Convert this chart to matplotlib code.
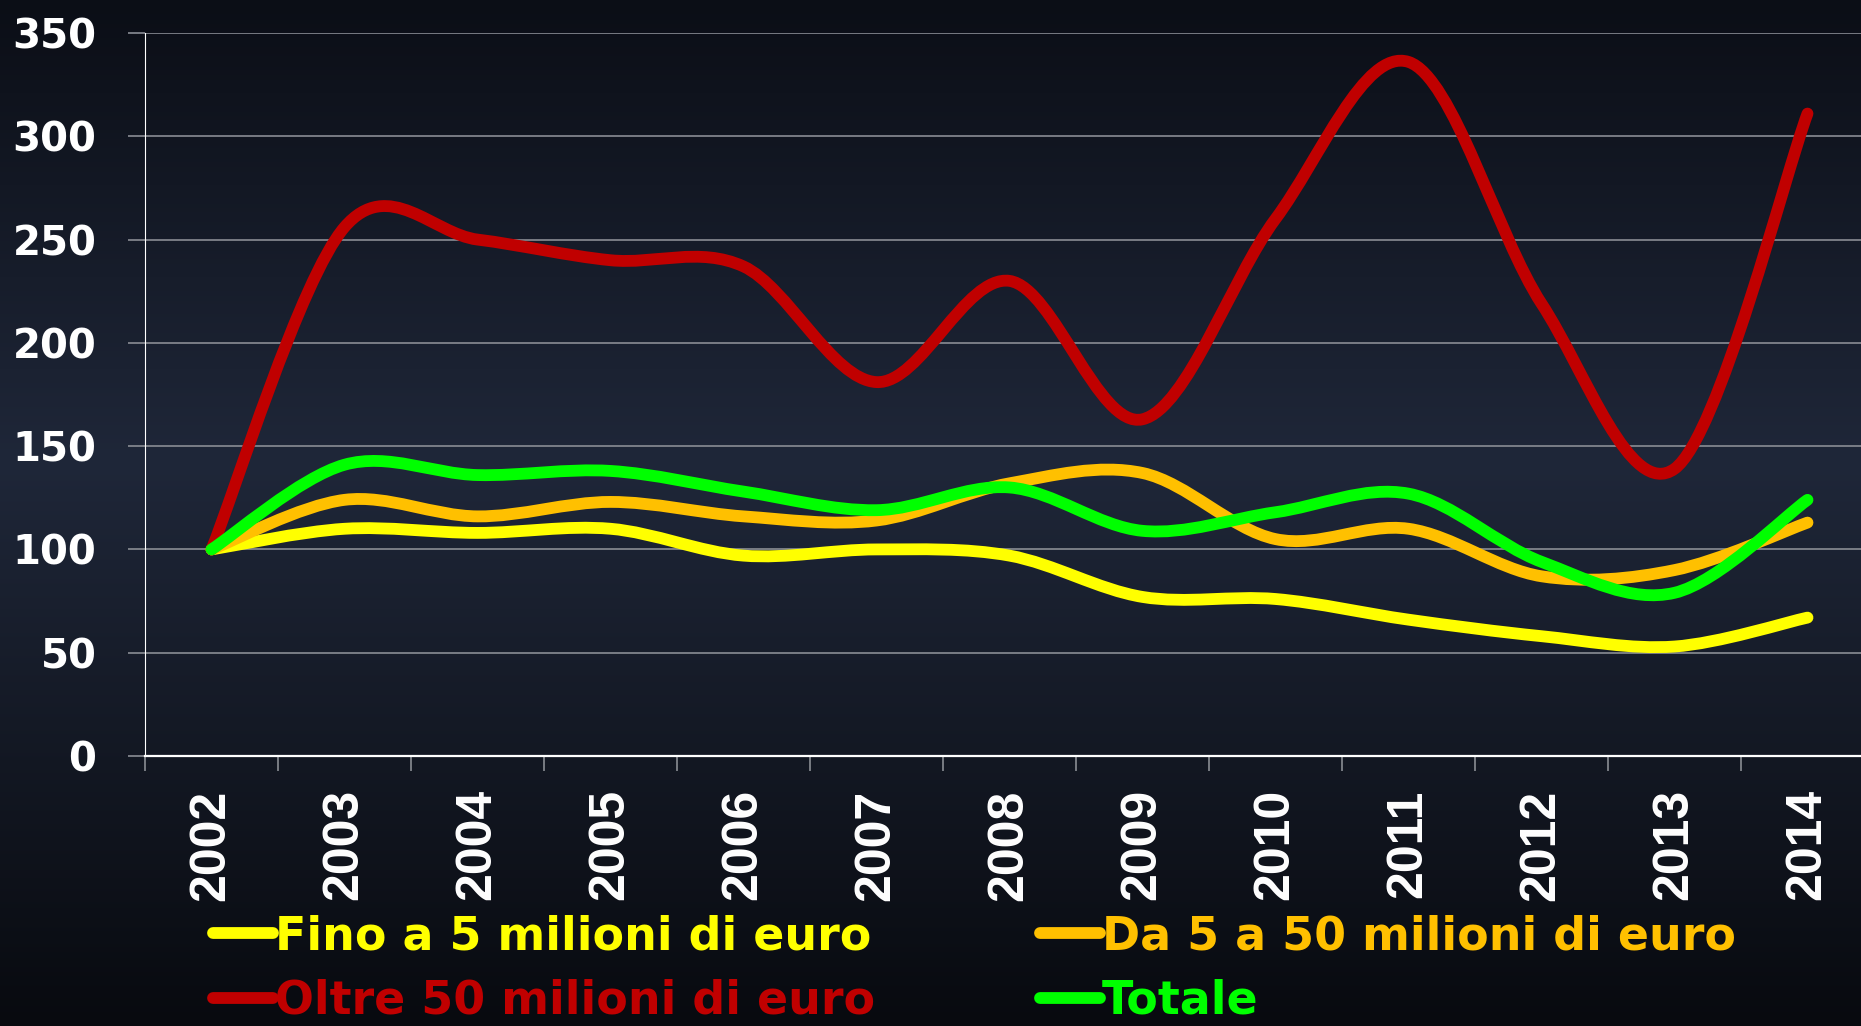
import numpy as np
import matplotlib.pyplot as plt
from matplotlib.path import Path
from matplotlib.patches import PathPatch
from matplotlib.lines import Line2D

years = ['2002', '2003', '2004', '2005', '2006', '2007', '2008',
         '2009', '2010', '2011', '2012', '2013', '2014']

fino_5 = [100, 110, 108, 110, 97, 100, 97, 77, 76, 66, 58, 53, 67]
da_5_a_50 = [100, 124, 116, 123, 116, 114, 132, 137, 105, 110, 87, 90, 113]
oltre_50 = [100, 256, 250, 240, 237, 181, 230, 163, 260, 336, 219, 139, 311]
totale = [100, 141, 136, 138, 128, 119, 130, 109, 118, 127, 94, 79, 124]

labels = ['Fino a 5 milioni di euro', 'Da 5 a 50 milioni di euro',
          'Oltre 50 milioni di euro', 'Totale']
colors = ['#ffff00', '#ffc000', '#c00000', '#00ff00']


def smooth_path(xs, ys):
    # bezier path through the points, like a smoothed excel line
    pts = np.column_stack([xs, ys]).astype(float)
    n = len(pts)
    verts = [pts[0]]
    codes = [Path.MOVETO]
    for i in range(n - 1):
        p0 = pts[max(i - 1, 0)]
        p1 = pts[i]
        p2 = pts[i + 1]
        p3 = pts[min(i + 2, n - 1)]
        c1 = p1 + (p2 - p0) / 6.0
        c2 = p2 - (p3 - p1) / 6.0
        verts += [c1, c2, p2]
        codes += [Path.CURVE4] * 3
    return Path(verts, codes)


fig = plt.figure(figsize=(18.61, 10.26), dpi=100)

# background gradient
bg = fig.add_axes([0, 0, 1, 1], zorder=0)
bg.axis('off')
stops = [0.0, 0.45, 1.0]
c_top = np.array([11, 14, 22]) / 255
c_mid = np.array([31, 39, 57]) / 255
c_bot = np.array([8, 10, 15]) / 255
t = np.linspace(0, 1, 512)
grad = np.zeros((512, 1, 3))
for k in range(3):
    grad[:, 0, k] = np.interp(t, stops, [c_top[k], c_mid[k], c_bot[k]])
bg.imshow(grad, aspect='auto', extent=[0, 1, 0, 1])

ax = fig.add_axes([145 / 1861, 270 / 1026, 1729 / 1861, 723 / 1026], zorder=1)
ax.patch.set_alpha(0)
ax.set_xlim(-0.5, 12.5)
ax.set_ylim(0, 350)

x = np.arange(len(years))
series = [fino_5, da_5_a_50, oltre_50, totale]
handles = []
for vals, col, lab in zip(series, colors, labels):
    patch = PathPatch(smooth_path(x, vals), facecolor='none', edgecolor=col,
                      lw=8.5, capstyle='round', joinstyle='round', zorder=3)
    ax.add_patch(patch)
    handles.append(Line2D([0], [0], color=col, lw=8.5, solid_capstyle='round'))

grid_col = '#8a8d94'
ax.set_yticks(range(0, 351, 50))
ax.yaxis.grid(True, color=grid_col, lw=1.2)
ax.set_axisbelow(True)
ax.tick_params(axis='y', colors=grid_col, length=12, width=1.2, pad=23)
for lab in ax.get_yticklabels():
    lab.set_color('white')
    lab.set_fontfamily('DejaVu Sans')
    lab.set_fontweight('bold')
    lab.set_fontsize(29)

ax.set_xticks(np.arange(-0.5, 13, 1))
ax.set_xticklabels([])
ax.set_xticks(x, minor=True)
ax.set_xticklabels(years, minor=True, rotation=90, color='white',
                   fontfamily='Liberation Sans', fontweight='bold', fontsize=36)
ax.tick_params(axis='x', which='major', colors=grid_col, length=11, width=1.2)
ax.tick_params(axis='x', which='minor', length=0, pad=24)

for side in ['top', 'right']:
    ax.spines[side].set_visible(False)
ax.spines['left'].set_color('white')
ax.spines['left'].set_linewidth(0.8)
ax.spines['bottom'].set_color('white')
ax.spines['bottom'].set_linewidth(1.6)

# legend filled row by row: fino, da / oltre, totale
order = [0, 2, 1, 3]
leg = fig.legend([handles[i] for i in order], [labels[i] for i in order],
                 loc='upper left', bbox_to_anchor=(190 / 1861, 0.131),
                 ncol=2, frameon=False, borderpad=0, handlelength=1.3,
                 handletextpad=0.05, columnspacing=3.6, labelspacing=0.42,
                 prop={'family': 'DejaVu Sans', 'weight': 'bold', 'size': 33})
for txt, i in zip(leg.get_texts(), order):
    txt.set_color(colors[i])

fig.savefig('out.png', dpi=100)
